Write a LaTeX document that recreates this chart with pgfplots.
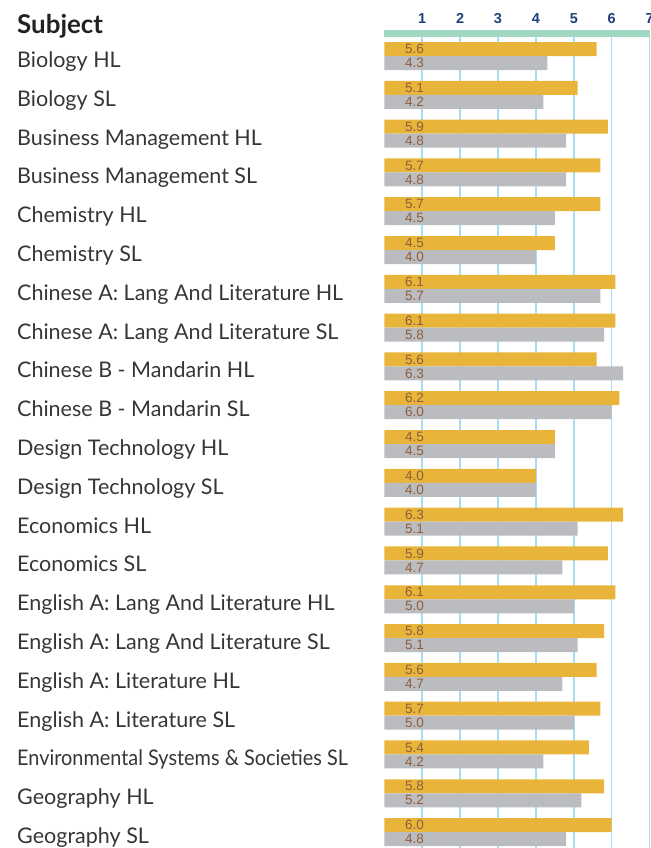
\documentclass[border=0pt]{standalone}
\usepackage{pgfplots}
\pgfplotsset{compat=1.18}
\usepackage{pgfplotstable}
\usepackage{fontspec}
\setmainfont{Lato}
\newfontfamily\numfont{Liberation Sans}
\definecolor{barorange}{HTML}{E8B53A}
\definecolor{bargray}{HTML}{BBBCC0}
\definecolor{greenbar}{HTML}{A0D8C2}
\definecolor{gridblue}{HTML}{A8DCF2}
\definecolor{tickblue}{HTML}{1F3F7A}
\definecolor{valbrown}{HTML}{8E5E3C}
\definecolor{labeltext}{HTML}{363636}
\definecolor{headtext}{HTML}{222222}

\pgfplotstableread{
i a b
0 5.6 4.3
1 5.1 4.2
2 5.9 4.8
3 5.7 4.8
4 5.7 4.5
5 4.5 4.0
6 6.1 5.7
7 6.1 5.8
8 5.6 6.3
9 6.2 6.0
10 4.5 4.5
11 4.0 4.0
12 6.3 5.1
13 5.9 4.7
14 6.1 5.0
15 5.8 5.1
16 5.6 4.7
17 5.7 5.0
18 5.4 4.2
19 5.8 5.2
20 6.0 4.8
}\datatable

\begin{document}
\begin{tikzpicture}
\begin{axis}[
 /pgf/number format/assume math mode=true,
 scale only axis, width=265.3bp, height=814.5bp,
 xmin=0, xmax=7, ymin=-0.58, ymax=20.41,
 y dir=reverse,
 axis x line*=top, axis y line*=left,
 x axis line style={draw=greenbar, line width=7bp},
 y axis line style={draw=none},
 xtick={1,...,7}, xtick style={draw=none},
 xmajorgrids, grid style={draw=gridblue, line width=1.6bp},
 xticklabel style={font=\numfont\bfseries\fontsize{14.5}{14.5}\selectfont, text=tickblue, anchor=south, inner sep=0pt, yshift=10bp},
 ytick={0,...,20}, ytick style={draw=none},
 yticklabels={{Biology HL},{Biology SL},{Business Management HL},{Business Management SL},{Chemistry HL},{Chemistry SL},{Chinese A: Lang And Literature HL},{Chinese A: Lang And Literature SL},{Chinese B - Mandarin HL},{Chinese B - Mandarin SL},{Design Technology HL},{Design Technology SL},{Economics HL},{Economics SL},{English A: Lang And Literature HL},{English A: Lang And Literature SL},{English A: Literature HL},{English A: Literature SL},{\scalebox{0.924}[1]{Environmental Systems \& Societies SL}},{Geography HL},{Geography SL}},
 yticklabel style={font=\fontsize{21.6}{21.6}\selectfont, text=labeltext, anchor=base west, inner sep=0pt, xshift=-367.3bp, yshift=-11.5bp},
 clip=false,
]
\addplot[xbar, bar width=14bp, bar shift=0pt, fill=barorange, draw=none] table[x=a, y expr=\thisrow{i}-0.1804]{\datatable};
\addplot[xbar, bar width=14bp, bar shift=0pt, fill=bargray, draw=none] table[x=b, y expr=\thisrow{i}+0.1804]{\datatable};
\addplot[draw=none, mark=none, point meta=\thisrow{a},
 nodes near coords={\pgfmathprintnumber[fixed,fixed zerofill,precision=1]{\pgfplotspointmeta}},
 every node near coord/.append style={anchor=west, font=\numfont\fontsize{13.6}{13.6}\selectfont, text=valbrown, inner sep=0pt}]
 table[x expr=0.546, y expr=\thisrow{i}-0.1804]{\datatable};
\addplot[draw=none, mark=none, point meta=\thisrow{b},
 nodes near coords={\pgfmathprintnumber[fixed,fixed zerofill,precision=1]{\pgfplotspointmeta}},
 every node near coord/.append style={anchor=west, font=\numfont\fontsize{13.6}{13.6}\selectfont, text=valbrown, inner sep=0pt}]
 table[x expr=0.546, y expr=\thisrow{i}+0.1804]{\datatable};
\end{axis}
\node[anchor=base west, font=\bfseries\fontsize{26}{26}\selectfont, text=headtext, inner sep=0pt] at ([xshift=-367.3bp, yshift=0bp]current axis.north west) {Subject};
\pgfresetboundingbox
\path[use as bounding box] ([xshift=-384.3bp, yshift=33.5bp]current axis.north west) rectangle ++(651bp,-848bp);
\end{tikzpicture}
\end{document}
